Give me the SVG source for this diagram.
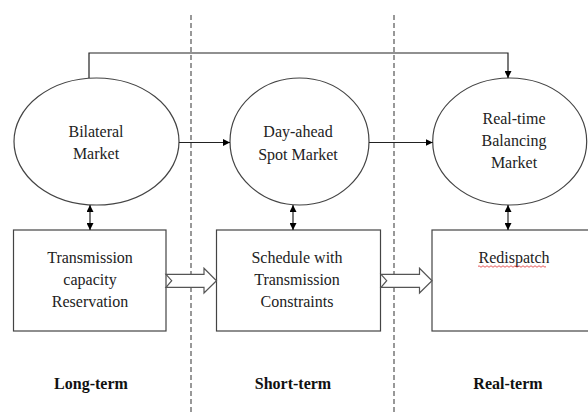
<svg xmlns="http://www.w3.org/2000/svg" width="588" height="412" viewBox="0 0 588 412">
<defs>
<marker id="ah" viewBox="0 0 10 10" refX="10" refY="5" markerWidth="7" markerHeight="7" orient="auto-start-reverse" markerUnits="userSpaceOnUse">
<path d="M0,0 L10,5 L0,10 z" fill="#000"/>
</marker>
<style>
.shape{fill:#fff;stroke:#444;stroke-width:1.2}
.t{font-family:"Liberation Serif","Times New Roman",serif;font-size:16px;fill:#222;text-anchor:middle}
.b{font-family:"Liberation Serif","Times New Roman",serif;font-size:16px;font-weight:bold;fill:#111;text-anchor:middle}
.ln{fill:none;stroke:#222;stroke-width:1.2}
.dash{stroke:#777;stroke-width:1.5;stroke-dasharray:5 3;fill:none}
.blk{fill:#fff;stroke:#555;stroke-width:1.2;stroke-linejoin:miter}
</style>
</defs>
<rect width="588" height="412" fill="#fff"/>
<g id="dividers">
<line class="dash" x1="191" y1="15" x2="191" y2="412"/>
<line class="dash" x1="394" y1="15" x2="394" y2="412"/>
</g>
<g id="bilateral">
<ellipse class="shape" cx="96.5" cy="141.5" rx="82.5" ry="63.5"/>
<text class="t" x="96" y="137">Bilateral</text>
<text class="t" x="96" y="159">Market</text>
</g>
<g id="dayahead">
<ellipse class="shape" cx="299.5" cy="141.5" rx="69.5" ry="63.5"/>
<text class="t" x="298" y="137">Day-ahead</text>
<text class="t" x="298" y="160">Spot Market</text>
</g>
<g id="realtime">
<ellipse class="shape" cx="509.7" cy="141.5" rx="77" ry="63.5"/>
<text class="t" x="514" y="124">Real-time</text>
<text class="t" x="514" y="146">Balancing</text>
<text class="t" x="514" y="168">Market</text>
</g>
<g id="tcr">
<rect class="shape" x="13.5" y="230" width="152.5" height="101"/>
<text class="t" x="90" y="263">Transmission</text>
<text class="t" x="90" y="285">capacity</text>
<text class="t" x="90" y="307">Reservation</text>
</g>
<g id="schedule">
<rect class="shape" x="216.5" y="230" width="164" height="101"/>
<text class="t" x="297" y="263">Schedule with</text>
<text class="t" x="297" y="285">Transmission</text>
<text class="t" x="297" y="307">Constraints</text>
</g>
<g id="redispatch">
<rect class="shape" x="432" y="230" width="160" height="101"/>
<text class="t" x="514" y="263">Redispatch</text>
<path d="M478,266.5 q1,-1.5 2,0 t2,0 t2,0 t2,0 t2,0 t2,0 t2,0 t2,0 t2,0 t2,0 t2,0 t2,0 t2,0 t2,0 t2,0 t2,0 t2,0 t2,0 t2,0 t2,0 t2,0 t2,0 t2,0 t2,0 t2,0 t2,0 t2,0 t2,0 t2,0 t2,0 t2,0 t2,0 t2,0 t2,0" fill="none" stroke="#e03030" stroke-width="0.8"/>
</g>
<g id="labels">
<text class="b" x="91" y="389">Long-term</text>
<text class="b" x="293" y="389">Short-term</text>
<text class="b" x="508" y="389">Real-term</text>
</g>
<g id="connectors">
<path class="ln" d="M89,78 V53 H508 V78" marker-end="url(#ah)"/>
<line class="ln" x1="179" y1="142.5" x2="230" y2="142.5" marker-end="url(#ah)"/>
<line class="ln" x1="369" y1="142.5" x2="432.7" y2="142.5" marker-end="url(#ah)"/>
<line class="ln" x1="90" y1="205" x2="90" y2="230" marker-start="url(#ah)" marker-end="url(#ah)"/>
<line class="ln" x1="293" y1="205" x2="293" y2="230" marker-start="url(#ah)" marker-end="url(#ah)"/>
<line class="ln" x1="508" y1="205" x2="508" y2="230" marker-start="url(#ah)" marker-end="url(#ah)"/>
<path class="blk" d="M166,274.3 H204 V268.3 L216.5,280.7 L204,293 V287.3 H166 L171.7,280.7 Z"/>
<path class="blk" d="M381,274.3 H419.5 V268.3 L432,280.7 L419.5,293 V287.3 H381 L386.7,280.7 Z"/>
</g>
</svg>
